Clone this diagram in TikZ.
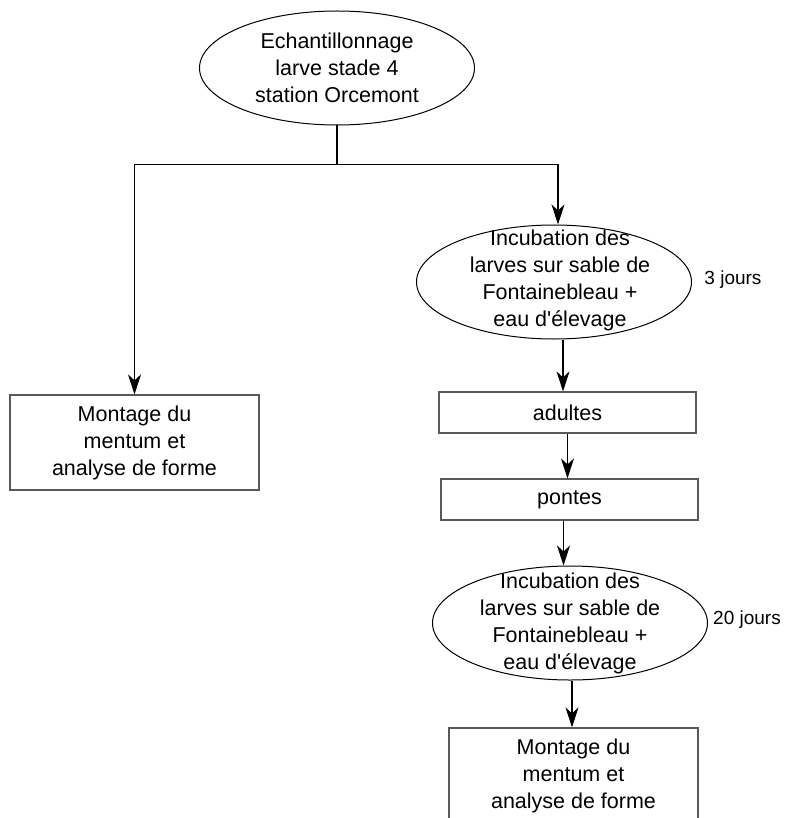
\documentclass[tikz,border=0pt]{standalone}
\usepackage{fontspec}
\setmainfont{Liberation Sans}
\usepackage{tikz}
\usetikzlibrary{arrows.meta}
\usetikzlibrary{shapes.geometric}
\usetikzlibrary{positioning}
\tikzset{oval/.style = {draw, ellipse, line width = 1, inner sep = 0, minimum width = 275, minimum height = 114}}
\tikzset{box/.style = {draw = mgray, line width = 1.2, inner sep = 0, minimum width = 257, minimum height = 41}}
\tikzset{txt/.style = {align = center, font = \fontsize{21.5}{27}\selectfont}}
\tikzset{days/.style = {font = \fontsize{19}{23}\selectfont}}
\tikzset{arr/.style = {line width = 1.1, -{Stealth[length = 20, width = 13, inset = 6]}}}
\definecolor{mgray}{rgb}{0.35, 0.35, 0.35}

\begin{document}
\begin{tikzpicture}[x = 1pt, y = -1pt]
      \useasboundingbox (0, 0) rectangle (784, 818);
      \clip (0, 0) rectangle (784, 818);
      \node [oval, txt] (samp) at (337, 68) {Echantillonnage\\larve stade 4\\station Orcemont};
      \node [box, txt, minimum width = 249, minimum height = 95] (mont1) at (134.5, 442.5) {Montage du\\mentum et\\analyse de forme};
      \node [oval] (inc1) at (554, 282) {};
      \node [txt] (inc1txt) at (560, 280) {Incubation des\\larves sur sable de\\Fontainebleau +\\eau d\textquotesingle élevage};
      \node [days] (days1) at (733, 280) {3 jours};
      \node [box, txt] (adults) at (567.5, 412.5) {adultes};
      \node [box, txt] (eggs) at (569.5, 499.5) {pontes};
      \node [oval] (inc2) at (570, 623) {};
      \node [txt] (inc2txt) at (570, 623) {Incubation des\\larves sur sable de\\Fontainebleau +\\eau d\textquotesingle élevage};
      \node [days] (days2) at (747, 620) {20 jours};
      \node [box, txt, minimum width = 249, minimum height = 95] (mont2) at (573.5, 775.5) {Montage du\\mentum et\\analyse de forme};
      \draw [line width = 1.1] (samp.south) -- ++(0, 39) coordinate (fork);
      \draw [arr] (fork) -| (mont1.north);
      \draw [arr] (fork) -| ([xshift = 4]inc1.north);
      \draw [arr] ([xshift = 9]inc1.south) -- ([xshift = 9]inc1.south |- adults.north);
      \draw [arr] (adults.south) -- (adults.south |- eggs.north);
      \draw [arr] ([xshift = -6]eggs.south) -- ([xshift = -6]eggs.south |- inc2.north);
      \draw [arr] ([xshift = 2]inc2.south) -- ([xshift = 2]inc2.south |- mont2.north);
    \end{tikzpicture}
\end{document}
